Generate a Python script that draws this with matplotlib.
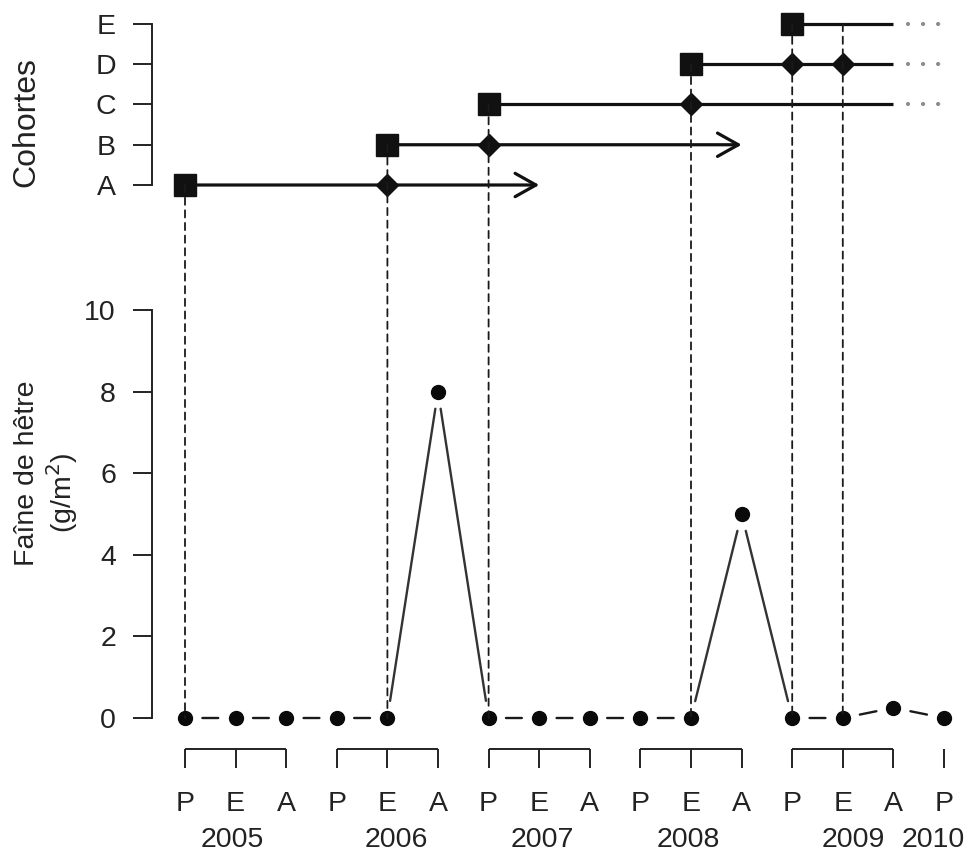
import matplotlib
matplotlib.use("Agg")
import matplotlib.pyplot as plt
from matplotlib.patches import ConnectionPatch

plt.rcParams['font.family'] = ['Liberation Sans', 'DejaVu Sans']

# ---------------- data ----------------
seasons = ['P', 'E', 'A', 'P', 'E', 'A', 'P', 'E', 'A', 'P', 'E', 'A', 'P', 'E', 'A', 'P']
season_year = [2005, 2005, 2005, 2006, 2006, 2006, 2007, 2007, 2007,
               2008, 2008, 2008, 2009, 2009, 2009, 2010]
years = ['2005', '2006', '2007', '2008', '2009', '2010']
year_label_x = [0.93, 4.17, 7.06, 9.94, 13.2, 14.78]
mast = [0, 0, 0, 0, 0, 8, 0, 0, 0, 0, 0, 5, 0, 0, 0.25, 0]

cohorts = ['A', 'B', 'C', 'D', 'E']
cohort_start = [0, 4, 6, 10, 12]
cohort_end = [7, 11, 14, 14, 14]
cohort_open = [False, False, True, True, True]
cohort_marks = [[4], [6], [10], [12, 13], []]
y_ticks = [0, 2, 4, 6, 8, 10]

# ---------------- layout (pixels) ----------------
W, H = 971, 857
DPI = 100
px_per_x = 50.6
x0_px = 185.0            # pixel of index 0
left_px, right_px = 152, 971
FS = 20.5

fig = plt.figure(figsize=(W / DPI, H / DPI), dpi=DPI)
fig.patch.set_facecolor('white')

xlim = ((left_px - x0_px) / px_per_x, (right_px - x0_px) / px_per_x)


def axes_at(y_top_px, y_bot_px):
    return fig.add_axes([left_px / W, 1 - y_bot_px / H,
                         (right_px - left_px) / W, (y_bot_px - y_top_px) / H])


# bottom panel: 0 at 718 px, 10 at 310 px
py_unit = 40.8
b_ylim = (-0.3, 10.3)
ax = axes_at(718 - b_ylim[1] * py_unit, 718 - b_ylim[0] * py_unit)
ax.set_xlim(*xlim)
ax.set_ylim(*b_ylim)

# top panel: A(0) at 185 px, E(4) at 24 px
ty_unit = 40.25
t_ylim = (-0.3, 4.3)
axt = axes_at(185 - t_ylim[1] * ty_unit, 185 - t_ylim[0] * ty_unit)
axt.set_xlim(*xlim)
axt.set_ylim(*t_ylim)

for a in (ax, axt):
    a.set_facecolor('none')
    for s in ('top', 'right', 'bottom'):
        a.spines[s].set_visible(False)
    a.spines['left'].set_linewidth(1.4)
    a.spines['left'].set_color('#222222')
    a.set_xticks([])
    a.tick_params(axis='y', length=13.5, width=1.4, color='#222222',
                  labelsize=FS, pad=12.5, labelcolor='#222222')

ax.spines['left'].set_bounds(0, 10)
ax.set_yticks(y_ticks)
ax.set_yticklabels([str(v) for v in y_ticks])

axt.spines['left'].set_bounds(0, 4)
axt.set_yticks(range(len(cohorts)))
axt.set_yticklabels(cohorts)

# ---------------- bottom data (type = "b") ----------------
xs = list(range(len(mast)))
line_col = '#1a1a1a'
for i in range(len(mast) - 1):
    col = '#333333' if (mast[i] > 1 or mast[i + 1] > 1) else line_col
    ax.annotate('', xy=(xs[i + 1], mast[i + 1]), xytext=(xs[i], mast[i]),
                arrowprops=dict(arrowstyle='-', lw=1.7, color=col,
                                shrinkA=12.5, shrinkB=12.5),
                annotation_clip=False)
ax.plot(xs, mast, linestyle='none', marker='o', markersize=10,
        color='#0a0a0a', zorder=5, clip_on=False)

# ---------------- x axis brackets ----------------
br_line_y = -(749 - 718) / py_unit
br_tick_y = -(768 - 718) / py_unit
lab_y = -(804 - 718) / py_unit
yr_y = -(840 - 718) / py_unit
for yr in sorted(set(season_year)):
    idx = [i for i, y in enumerate(season_year) if y == yr]
    if len(idx) > 1:
        ax.plot([idx[0], idx[-1]], [br_line_y, br_line_y], color='#222222',
                lw=1.4, clip_on=False, solid_capstyle='butt')
    for i in idx:
        ax.plot([i, i], [br_line_y, br_tick_y], color='#222222', lw=1.4,
                clip_on=False, solid_capstyle='butt')
for i, s in enumerate(seasons):
    ax.text(i, lab_y, s, ha='center', va='center', fontsize=FS, color='#222222')
for xp, yr in zip(year_label_x, years):
    ax.text(xp, yr_y, yr, ha='center', va='center', fontsize=FS, color='#222222')

# ---------------- cohorts ----------------
for k, name in enumerate(cohorts):
    s, e = cohort_start[k], cohort_end[k]
    if cohort_open[k]:
        axt.plot([s, e], [k, k], color='#111111', lw=2.3, solid_capstyle='butt',
                 zorder=3)
        axt.plot([e + 0.28, e + 0.9], [k, k], color='#8a8a8a', lw=3.0,
                 linestyle=(0, (0.01, 3.6)), dash_capstyle='round', zorder=3)
    else:
        axt.annotate('', xy=(e, k), xytext=(s, k),
                     arrowprops=dict(arrowstyle='->,head_length=0.75,head_width=0.42',
                                     lw=2.3, color='#111111', shrinkA=0, shrinkB=0,
                                     mutation_scale=20),
                     zorder=3)
    axt.plot([s], [k], marker='s', markersize=15.5, color='#111111',
             linestyle='none', zorder=5)
    if cohort_marks[k]:
        axt.plot(cohort_marks[k], [k] * len(cohort_marks[k]), marker='D',
                 markersize=11, color='#111111', linestyle='none', zorder=5)

# ---------------- vertical dashed links ----------------
events = sorted(set(cohort_start) | {t for m in cohort_marks for t in m})
for t in events:
    active = [k for k in range(len(cohorts))
              if cohort_start[k] <= t <= cohort_end[k]]
    top = max(active, key=lambda k: cohort_start[k])
    con = ConnectionPatch(xyA=(t, top), coordsA=axt.transData,
                          xyB=(t, mast[t]), coordsB=ax.transData,
                          linestyle=(0, (4, 3)), lw=1.3, color='#1a1a1a',
                          zorder=1)
    fig.add_artist(con)

# ---------------- axis titles ----------------
fig.text(26 / W, 1 - 122 / H, 'Cohortes', rotation=90, ha='center', va='center',
         fontsize=23, color='#222222')
fig.text(27 / W, 1 - 473 / H, 'Faîne de hêtre', rotation=90, ha='center',
         va='center', fontsize=FS, color='#222222')
fig.text(62 / W, 1 - 493 / H, '(g/m$^2$)', rotation=90, ha='center',
         va='center', fontsize=FS, color='#222222')

fig.savefig('out.png', dpi=DPI, facecolor='white')
